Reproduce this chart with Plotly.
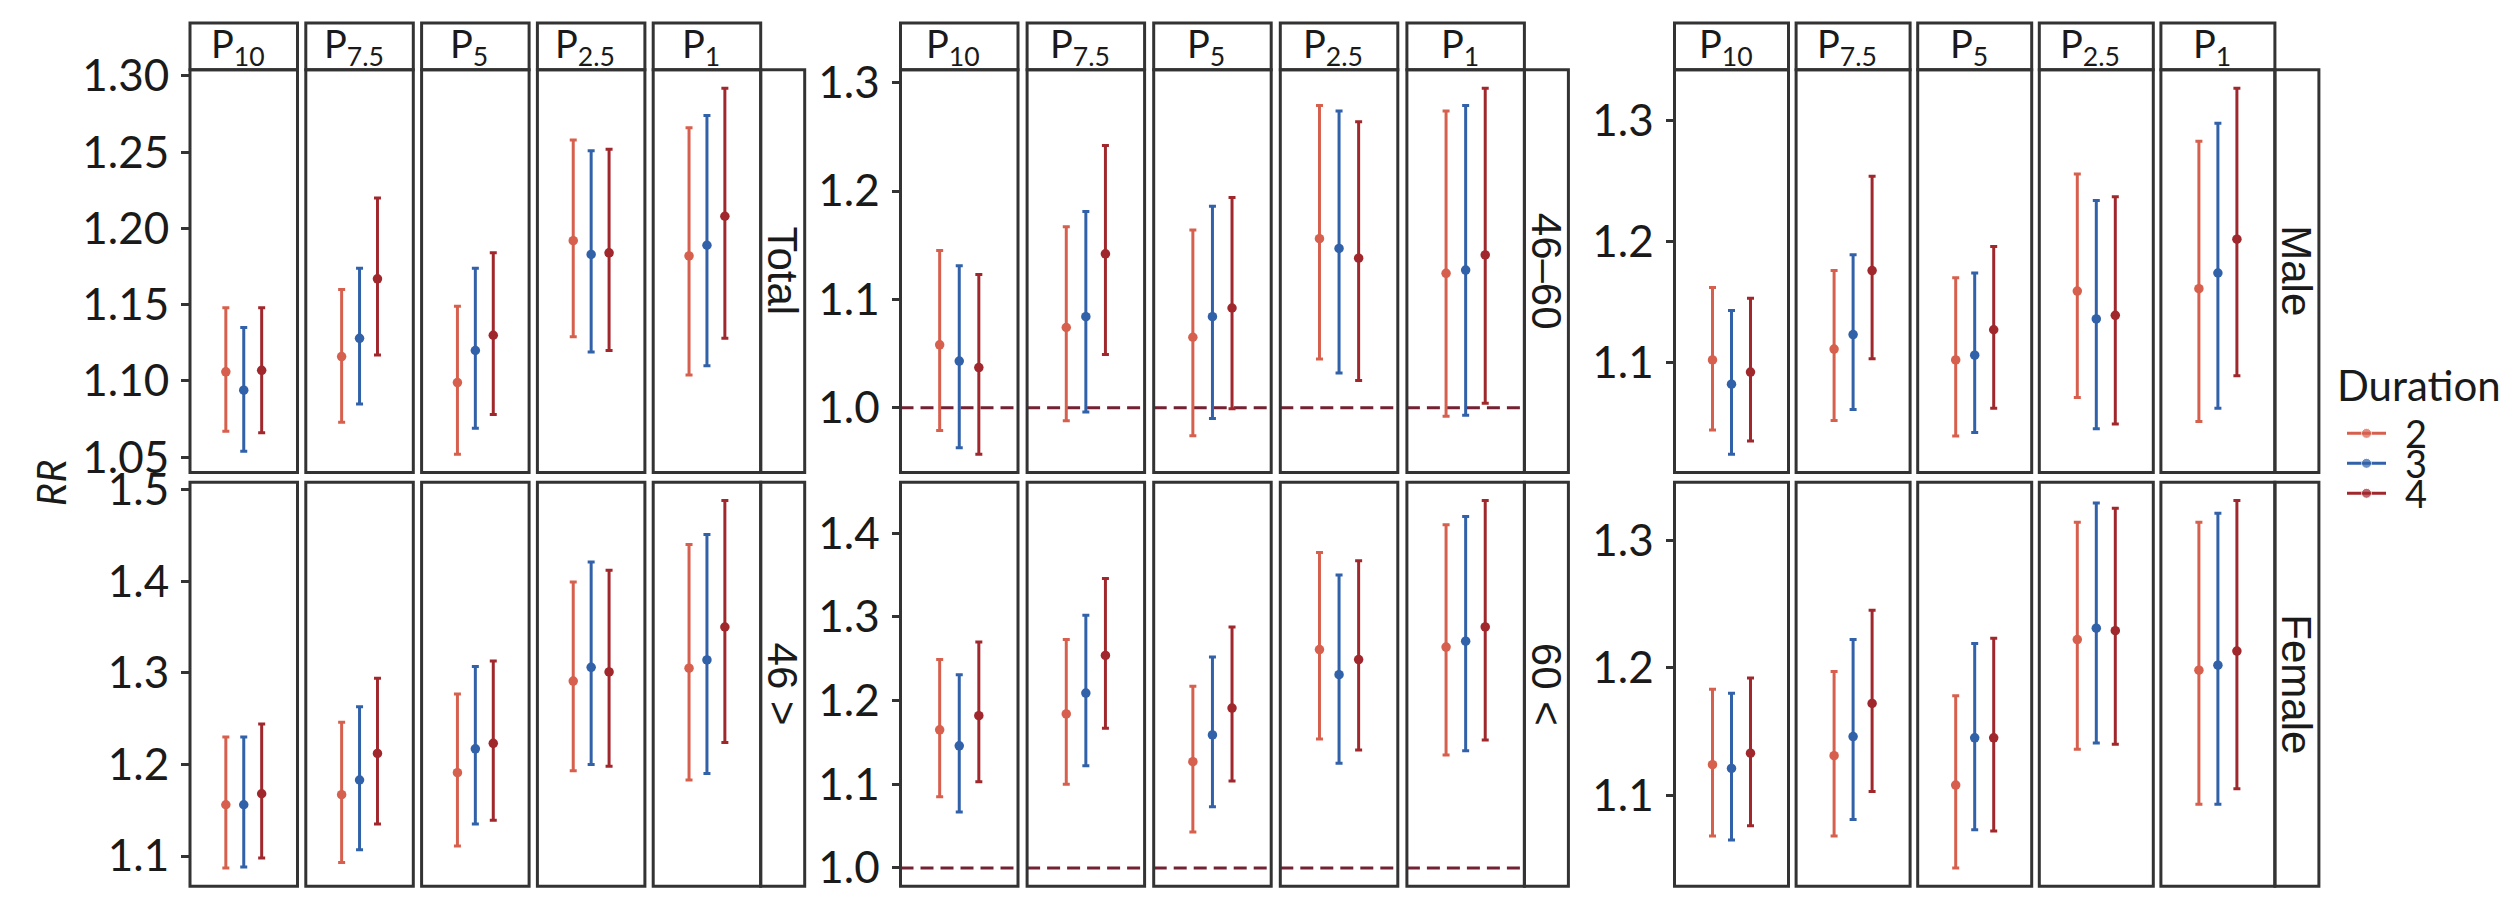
import plotly.graph_objects as go

# ---------------- data ----------------
PERCENTILES = ["10", "7.5", "5", "2.5", "1"]
DURATIONS = ["2", "3", "4"]
COLORS = {"2": "#D6604D", "3": "#3161A8", "4": "#A0282D"}
REF_LINE = 1.0

# Total
TOTAL_EST = {"2": [1.106, 1.116, 1.099, 1.192, 1.182],
             "3": [1.094, 1.128, 1.120, 1.183, 1.189],
             "4": [1.107, 1.167, 1.130, 1.184, 1.208]}
TOTAL_LO = {"2": [1.067, 1.073, 1.052, 1.129, 1.104],
            "3": [1.054, 1.085, 1.069, 1.119, 1.110],
            "4": [1.066, 1.117, 1.078, 1.120, 1.128]}
TOTAL_HI = {"2": [1.148, 1.160, 1.149, 1.258, 1.266],
            "3": [1.135, 1.174, 1.174, 1.251, 1.274],
            "4": [1.148, 1.220, 1.184, 1.252, 1.292]}

# 46 >
U46_EST = {"2": [1.156, 1.167, 1.191, 1.291, 1.305],
           "3": [1.156, 1.183, 1.217, 1.306, 1.314],
           "4": [1.168, 1.212, 1.223, 1.301, 1.350]}
U46_LO = {"2": [1.087, 1.093, 1.111, 1.193, 1.183],
          "3": [1.088, 1.107, 1.135, 1.200, 1.190],
          "4": [1.098, 1.135, 1.139, 1.198, 1.224]}
U46_HI = {"2": [1.230, 1.246, 1.277, 1.399, 1.440],
          "3": [1.230, 1.263, 1.307, 1.421, 1.451],
          "4": [1.244, 1.294, 1.313, 1.412, 1.488]}

# 46–60
A4660_EST = {"2": [1.058, 1.074, 1.065, 1.156, 1.124],
             "3": [1.043, 1.084, 1.084, 1.147, 1.127],
             "4": [1.037, 1.142, 1.092, 1.138, 1.141]}
A4660_LO = {"2": [0.979, 0.988, 0.974, 1.045, 0.992],
            "3": [0.963, 0.996, 0.990, 1.032, 0.993],
            "4": [0.957, 1.049, 0.999, 1.025, 1.004]}
A4660_HI = {"2": [1.145, 1.167, 1.164, 1.279, 1.274],
            "3": [1.131, 1.181, 1.186, 1.274, 1.279],
            "4": [1.123, 1.242, 1.194, 1.264, 1.295]}

# 60 <
O60_EST = {"2": [1.165, 1.184, 1.127, 1.261, 1.264],
           "3": [1.146, 1.209, 1.159, 1.231, 1.271],
           "4": [1.182, 1.254, 1.191, 1.249, 1.288]}
O60_LO = {"2": [1.085, 1.100, 1.043, 1.154, 1.135],
          "3": [1.067, 1.122, 1.073, 1.125, 1.140],
          "4": [1.103, 1.167, 1.104, 1.141, 1.153]}
O60_HI = {"2": [1.249, 1.273, 1.217, 1.377, 1.410],
          "3": [1.231, 1.302, 1.252, 1.350, 1.420],
          "4": [1.270, 1.346, 1.288, 1.367, 1.439]}

# Male
MALE_EST = {"2": [1.102, 1.111, 1.102, 1.159, 1.161],
            "3": [1.082, 1.123, 1.106, 1.136, 1.174],
            "4": [1.092, 1.176, 1.127, 1.139, 1.202]}
MALE_LO = {"2": [1.044, 1.052, 1.039, 1.071, 1.051],
           "3": [1.024, 1.061, 1.042, 1.045, 1.062],
           "4": [1.035, 1.103, 1.062, 1.049, 1.089]}
MALE_HI = {"2": [1.162, 1.176, 1.170, 1.256, 1.283],
           "3": [1.143, 1.189, 1.174, 1.234, 1.298],
           "4": [1.153, 1.254, 1.196, 1.237, 1.327]}

# Female
FEMALE_EST = {"2": [1.124, 1.131, 1.108, 1.222, 1.198],
              "3": [1.121, 1.146, 1.145, 1.231, 1.202],
              "4": [1.133, 1.172, 1.145, 1.229, 1.213]}
FEMALE_LO = {"2": [1.068, 1.068, 1.043, 1.136, 1.093],
             "3": [1.065, 1.081, 1.073, 1.141, 1.093],
             "4": [1.076, 1.103, 1.072, 1.140, 1.105]}
FEMALE_HI = {"2": [1.183, 1.197, 1.178, 1.314, 1.314],
             "3": [1.180, 1.222, 1.219, 1.329, 1.321],
             "4": [1.192, 1.245, 1.223, 1.325, 1.331]}

TICKS_TOTAL = [1.05, 1.10, 1.15, 1.20, 1.25, 1.30]
TICKS_U46 = [1.1, 1.2, 1.3, 1.4, 1.5]
TICKS_4660 = [1.0, 1.1, 1.2, 1.3]
TICKS_O60 = [1.0, 1.1, 1.2, 1.3, 1.4]
TICKS_MALE = [1.1, 1.2, 1.3]
TICKS_FEMALE = [1.1, 1.2, 1.3]

# ---------------- layout geometry (pixels) ----------------
W, H = 2520, 905
STRIP_TOP = 2
ROW_Y = [(50.5, 467.0), (477.0, 895.0)]
STRIP_W = 44
DODGE = 0.2

GROUPS = [
    dict(left=190.0, step=115.8, width=107.5, ref=False,
         rows=[("Total", TOTAL_EST, TOTAL_LO, TOTAL_HI, TICKS_TOTAL, ".2f"),
               ("46 >", U46_EST, U46_LO, U46_HI, TICKS_U46, ".1f")]),
    dict(left=900.5, step=126.6, width=117.5, ref=True,
         rows=[("46–60", A4660_EST, A4660_LO, A4660_HI, TICKS_4660, ".1f"),
               ("60 <", O60_EST, O60_LO, O60_HI, TICKS_O60, ".1f")]),
    dict(left=1674.5, step=121.6, width=114.0, ref=False,
         rows=[("Male", MALE_EST, MALE_LO, MALE_HI, TICKS_MALE, ".1f"),
               ("Female", FEMALE_EST, FEMALE_LO, FEMALE_HI, TICKS_FEMALE, ".1f")]),
]

BORDER = "#333333"
TEXT = "#1a1a1a"
FONT_MAIN = "Lato"
FONT_STRIP_Y = "Liberation Sans"


def px(x):
    return x / W


def py(y):
    return 1 - y / H


fig = go.Figure()
layout = {}
shapes = []
annotations = []
k = 0

for g in GROUPS:
    for r, (label, est, lo, hi, ticks, fmt) in enumerate(g["rows"]):
        # y range: ggplot-like 5% expansion of the data (and reference line)
        vals = [v for d in DURATIONS for v in lo[d] + hi[d]]
        if g["ref"]:
            vals.append(REF_LINE)
        vmin, vmax = min(vals), max(vals)
        pad = (vmax - vmin) * 0.05
        yrange = [vmin - pad, vmax + pad]
        top, bottom = ROW_Y[r]
        for c, pct in enumerate(PERCENTILES):
            k += 1
            sfx = "" if k == 1 else str(k)
            l = g["left"] + c * g["step"]
            rr = l + g["width"]
            layout["xaxis" + sfx] = dict(
                domain=[px(l), px(rr)], range=[1 - 3 * DODGE, 1 + 3 * DODGE],
                anchor="y" + sfx, showgrid=False, zeroline=False,
                showticklabels=False, ticks="", showline=False, fixedrange=True)
            ydict = dict(
                domain=[py(bottom), py(top)], range=yrange, anchor="x" + sfx,
                showgrid=False, zeroline=False, showline=False, fixedrange=True)
            if c == 0:
                ydict.update(ticks="outside", ticklen=8, tickwidth=2.5,
                             tickcolor=BORDER, tickvals=ticks,
                             ticktext=[format(t, fmt) for t in ticks],
                             ticklabelstandoff=3,
                             tickfont=dict(family=FONT_MAIN, size=44, color=TEXT))
            else:
                ydict.update(showticklabels=False, ticks="")
            layout["yaxis" + sfx] = ydict

            if g["ref"]:
                shapes.append(dict(type="line", xref="x" + sfx + " domain",
                                   x0=0, x1=1, yref="y" + sfx,
                                   y0=REF_LINE, y1=REF_LINE, layer="below",
                                   line=dict(color="#722232", width=3,
                                             dash="13px,7px")))

            for j, d in enumerate(DURATIONS):
                e = est[d][c]
                fig.add_trace(go.Scatter(
                    x=[1 + (j - 1) * DODGE], y=[e], mode="markers",
                    marker=dict(color=COLORS[d], size=9.5),
                    error_y=dict(type="data", symmetric=False,
                                 array=[hi[d][c] - e], arrayminus=[e - lo[d][c]],
                                 color=COLORS[d], thickness=3, width=3.5),
                    xaxis="x" + sfx, yaxis="y" + sfx, showlegend=False,
                    name=d, hoverinfo="skip"))

            # panel border
            shapes.append(dict(type="rect", xref="paper", yref="paper",
                               x0=px(l), x1=px(rr), y0=py(bottom), y1=py(top),
                               line=dict(color=BORDER, width=3), layer="above"))
            # top strip
            if r == 0:
                shapes.append(dict(type="rect", xref="paper", yref="paper",
                                   x0=px(l), x1=px(rr), y0=py(top), y1=py(STRIP_TOP),
                                   line=dict(color=BORDER, width=3), layer="above"))
                annotations.append(dict(
                    x=px((l + rr) / 2 - 6), y=py((STRIP_TOP + top) / 2),
                    xref="paper", yref="paper", showarrow=False,
                    text="P<sub>" + pct + "</sub>", xanchor="center", yanchor="middle",
                    font=dict(family=FONT_MAIN, size=38, color=TEXT)))
        # right strip
        last_r = g["left"] + 4 * g["step"] + g["width"]
        shapes.append(dict(type="rect", xref="paper", yref="paper",
                           x0=px(last_r), x1=px(last_r + STRIP_W),
                           y0=py(bottom), y1=py(top),
                           line=dict(color=BORDER, width=3), layer="above"))
        annotations.append(dict(
            x=px(last_r + STRIP_W / 2), y=py((top + bottom) / 2),
            xref="paper", yref="paper", showarrow=False, text=label,
            textangle=90, xanchor="center", yanchor="middle",
            font=dict(family=FONT_STRIP_Y, size=42, color=TEXT)))

# y axis title
annotations.append(dict(x=px(51), y=py(478), xref="paper", yref="paper",
                        showarrow=False, text="<i>RR</i>", textangle=-90,
                        xanchor="center", yanchor="middle",
                        font=dict(family=FONT_MAIN, size=40, color=TEXT)))

# legend (drawn with its own small axis)
k += 1
sfx = str(k)
LEG_TOP, LEG_ROW = 411.0, 31.0
layout["xaxis" + sfx] = dict(domain=[px(2347), px(2386)], range=[0, 1],
                             anchor="y" + sfx, visible=False, fixedrange=True)
layout["yaxis" + sfx] = dict(domain=[py(LEG_TOP + 3 * LEG_ROW), py(LEG_TOP)],
                             range=[len(DURATIONS) - 0.5, -0.5],
                             anchor="x" + sfx, visible=False, fixedrange=True)
for j, d in enumerate(DURATIONS):
    fig.add_trace(go.Scatter(
        x=[0, 0.5, 1], y=[j, j, j], mode="lines+markers",
        line=dict(color=COLORS[d], width=3),
        marker=dict(color=COLORS[d], size=[0, 10, 0]),
        xaxis="x" + sfx, yaxis="y" + sfx, showlegend=False, hoverinfo="skip"))
    annotations.append(dict(x=px(2403), y=py(LEG_TOP + (j + 0.5) * LEG_ROW),
                            xref="paper", yref="paper", showarrow=False,
                            text=d, xanchor="left", yanchor="middle",
                            font=dict(family=FONT_MAIN, size=38, color=TEXT)))
annotations.append(dict(x=px(2335), y=py(376), xref="paper", yref="paper",
                        showarrow=False, text="Duration", xanchor="left",
                        yanchor="middle",
                        font=dict(family=FONT_MAIN, size=42, color=TEXT)))

fig.update_layout(
    width=W, height=H, margin=dict(l=0, r=0, t=0, b=0),
    paper_bgcolor="white", plot_bgcolor="white",
    showlegend=False, shapes=shapes, annotations=annotations, **layout)

fig.write_html("out.html", config={"displayModeBar": False},
               post_script="document.body.style.margin='0';"
                           "document.body.style.overflow='hidden';")
